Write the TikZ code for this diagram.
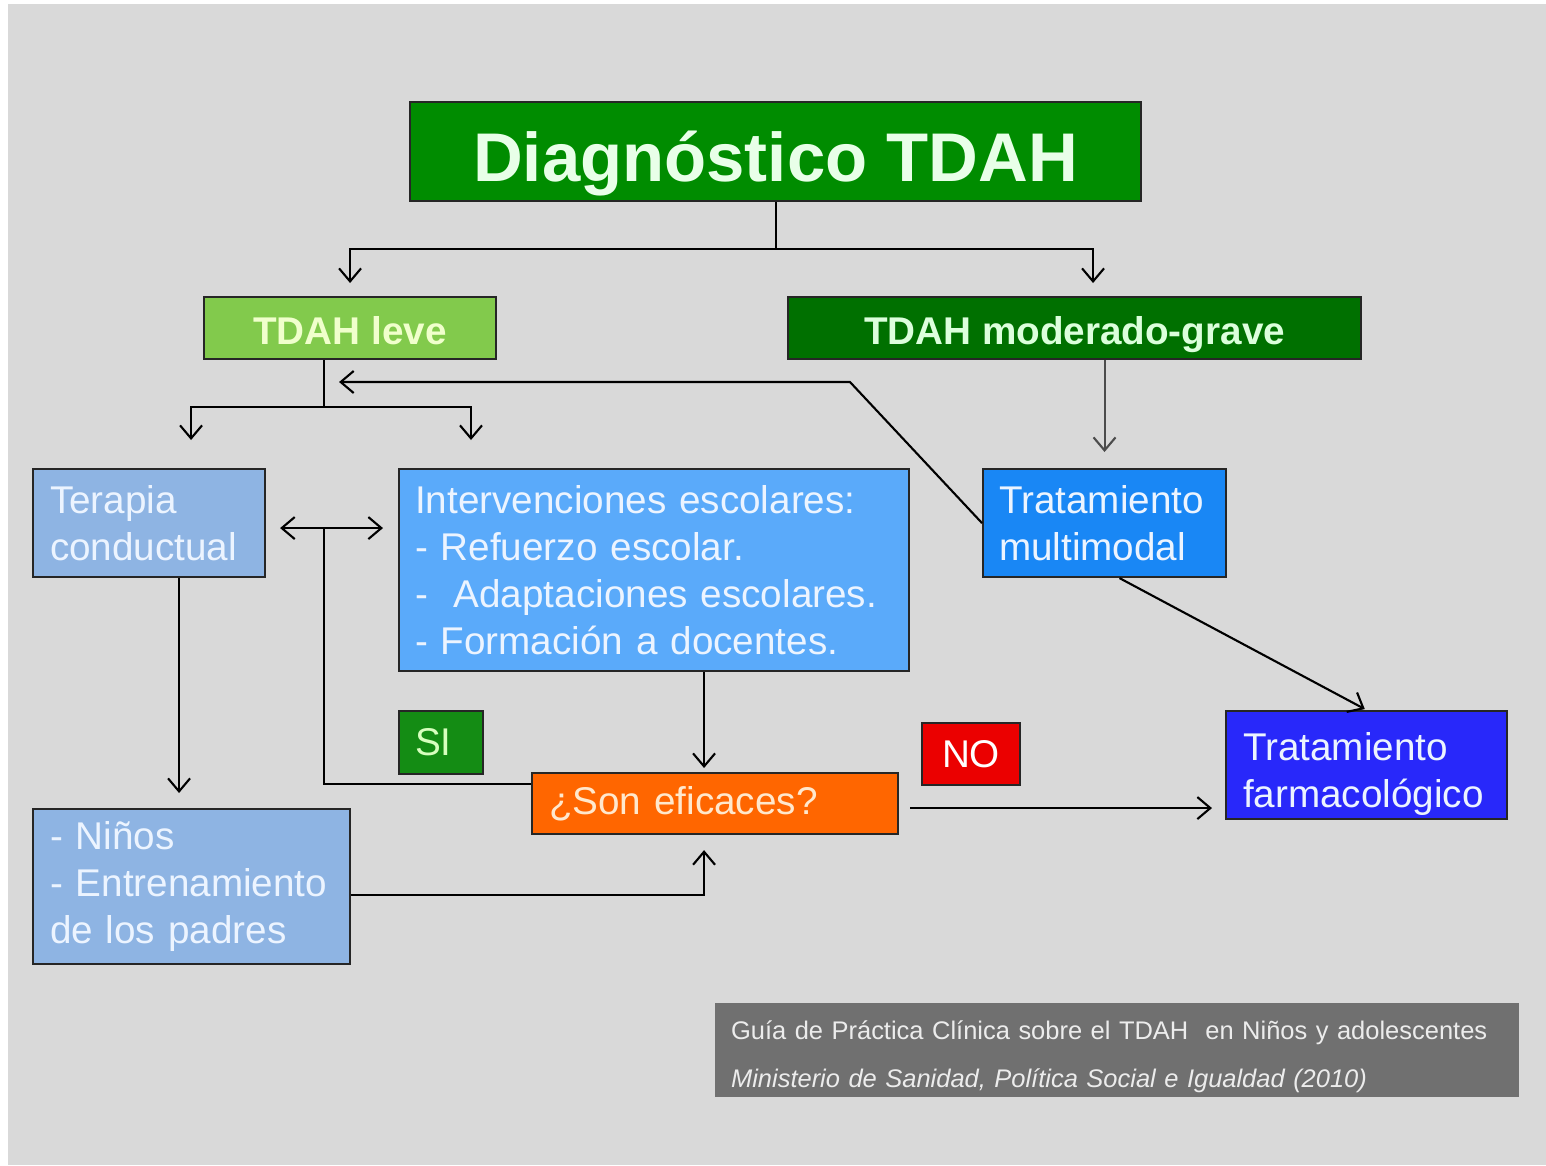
\documentclass[tikz,border=0pt]{standalone}
\usepackage{fontspec}
\setmainfont{Liberation Sans}
\usepackage{xcolor}
\usetikzlibrary{arrows.meta, positioning, calc}

\definecolor{bggray}{RGB}{217,217,217}
\definecolor{diaggreen}{RGB}{0,140,0}
\definecolor{levegreen}{RGB}{130,202,76}
\definecolor{modgreen}{RGB}{0,112,0}
\definecolor{softblue}{RGB}{142,180,227}
\definecolor{midblue}{RGB}{90,170,250}
\definecolor{strongblue}{RGB}{25,135,245}
\definecolor{deepblue}{RGB}{40,40,250}
\definecolor{sonorange}{RGB}{255,102,0}
\definecolor{sigreen}{RGB}{20,140,20}
\definecolor{nored}{RGB}{235,0,0}
\definecolor{notegray}{RGB}{112,112,112}

\begin{document}
\begin{tikzpicture}[
      font=\fontsize{11}{13.4}\selectfont,
      line width=0.6pt,
      titlebox/.style={
          draw=black!85,
          anchor=north west,
          inner sep=0pt,
          align=center,
          text height=17pt,
          text depth=0.2pt,
          font=\bfseries\fontsize{19.6}{22}\selectfont,
          text={rgb,255:red,232;green,255;blue,232}
      },
      levelbox/.style={
          draw=black!85,
          anchor=north west,
          inner sep=0pt,
          minimum height=0.62cm,
          text height=10pt,
          text depth=0.8pt,
          align=center,
          font=\bfseries\fontsize{11}{13}\selectfont
      },
      infobox/.style={
          draw=black!85,
          anchor=north west,
          inner xsep=0.17cm,
          inner ysep=0pt,
          align=left,
          text={rgb,255:red,236;green,244;blue,255}
      },
      tagbox/.style={
          draw=black!85,
          anchor=north west,
          inner sep=0pt,
          align=center
      },
      arrow/.style={-{Straight Barb[length=1.3mm, width=2.2mm]}, shorten >=1.4mm}
  ]
      % --- Background ---
      \useasboundingbox (0,0) rectangle (15.46,-11.65);
      \fill[white] (0,0) rectangle (15.46,-11.65);
      \fill[bggray] (0.08,-0.04) rectangle (15.46,-11.65);

      % --- Blocks ---
      \node[titlebox, fill=diaggreen, minimum width=7.31cm, minimum height=0.99cm] (diag) at (4.09,-1.01) {Diagnóstico TDAH};

      \node[levelbox, fill=levegreen, minimum width=2.92cm, text={rgb,255:red,240;green,255;blue,204}] (leve) at (2.03,-2.96) {TDAH leve};
      \node[levelbox, fill=modgreen, minimum width=5.73cm, text={rgb,255:red,220;green,255;blue,220}] (mod) at (7.87,-2.96) {TDAH moderado-grave};

      \node[infobox, fill=softblue, text width=1.98cm, minimum height=1.08cm] (terapia) at (0.32,-4.68) {Terapia\\conductual};
      \node[infobox, fill=midblue, inner xsep=0.16cm, text width=4.78cm, minimum height=2.02cm] (interv) at (3.98,-4.68)
          {Intervenciones escolares:\\- Refuerzo escolar.\\-\ \ Adaptaciones escolares.\\- Formación a docentes.};
      \node[infobox, fill=strongblue, inner xsep=0.16cm, text width=2.11cm, minimum height=1.08cm] (multi) at (9.82,-4.68) {Tratamiento\\multimodal};

      \node[infobox, fill=deepblue, text width=2.47cm, minimum height=1.08cm] (farm) at (12.25,-7.10) {\rule{0pt}{13pt}Tratamiento\\farmacológico};
      \node[infobox, fill=sonorange, text width=3.32cm, minimum height=0.61cm, text={rgb,255:red,255;green,232;blue,205}] (son) at (5.31,-7.72) {¿Son eficaces?};
      \node[infobox, fill=softblue, text width=2.83cm, minimum height=1.55cm] (ninos) at (0.32,-8.08)
          {- Niños\\- Entrenamiento\\de los padres};

      % --- Answers ---
      \node[infobox, fill=sigreen, inner xsep=0.16cm, text width=0.52cm, minimum height=0.63cm, text={rgb,255:red,215;green,255;blue,190}] (si) at (3.98,-7.10) {SI};
      \node[tagbox, fill=nored, minimum width=0.98cm, minimum height=0.62cm, text=white] (no) at (9.21,-7.22) {NO};

      % --- Source ---
      \node[infobox, draw=none, fill=notegray, inner xsep=0.16cm, text width=7.72cm, minimum height=0.94cm,
            font=\fontsize{7.25}{13.6}\selectfont, text={rgb,255:red,236;green,236;blue,236}] (guia) at (7.14,-10.02)
          {\rule{0pt}{9pt}Guía de Práctica Clínica sobre el TDAH\ \ en Niños y adolescentes\\\textit{Ministerio de Sanidad, Política Social e Igualdad (2010)}};

      % --- Connections (arrows) ---
      \coordinate (split) at ($(diag.south)+(0,-0.47)$);
      \draw (diag.south) -- (split);
      \draw[arrow, shorten >=1.3mm] (split) -| (leve.north);
      \draw[arrow, shorten >=1.3mm] (split) -| ($(mod.north)+(0.185,0)$);

      \coordinate (levesplit) at ($(leve.south)+(-0.26,-0.47)$);
      \draw (levesplit |- leve.south) -- (levesplit);
      \draw[arrow, shorten >=2.8mm] (levesplit) -| ($(terapia.north)+(0.42,0)$);
      \draw[arrow, shorten >=2.8mm] (levesplit) -| ($(interv.north west)+(0.73,0)$);

      \coordinate (bend) at (8.50,-3.82);
      \draw[arrow, shorten >=1.5mm] (multi.west) -- (bend) -- (levesplit |- bend);

      \draw[arrow, draw=black!70, shorten >=1.6mm] (multi.north |- mod.south) -- (multi.north);

      \coordinate (hub) at ($(levesplit |- terapia.east)+(0,-0.05)$);
      \draw[{Straight Barb[length=1.3mm, width=2.2mm]}-{Straight Barb[length=1.3mm, width=2.2mm]}, shorten <=1.4mm, shorten >=1.5mm]
          (terapia.east |- hub) -- (interv.west |- hub);
      \draw (hub) |- ($(son.north west)+(0,-0.12)$);

      \coordinate (tdown) at ($(terapia.south)+(0.30,0)$);
      \draw[arrow, shorten >=1.5mm] (tdown) -- (tdown |- ninos.north);

      \coordinate (idown) at ($(interv.south)+(0.50,0)$);
      \draw[arrow, shorten >=0.4mm] (idown) -- (idown |- son.north);
      \draw[arrow, shorten >=1.5mm] ($(ninos.east)+(0,-0.08)$) -| (idown |- son.south);

      \coordinate (sonout) at ($(son.east)+(0,-0.045)$);
      \draw[arrow, shorten <=1.1mm, shorten >=1.3mm] (sonout) -- (sonout -| farm.west);
      \draw[arrow, shorten >=0.2mm] ($(multi.south)+(0.15,0)$) -- (farm.north);

  \end{tikzpicture}
\end{document}
